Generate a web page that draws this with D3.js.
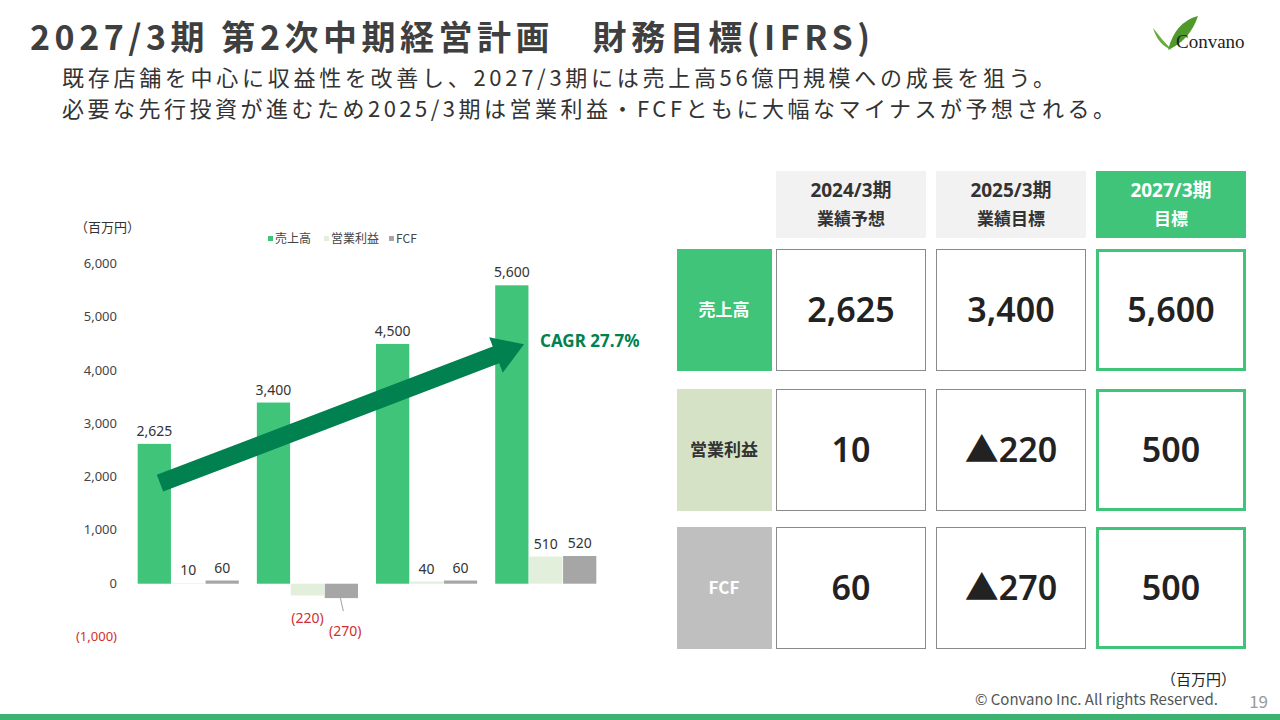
<!DOCTYPE html>
<html><head><meta charset="utf-8">
<script src="https://cdn.jsdelivr.net/npm/d3@7"></script>
<style>body{margin:0;background:#fff}svg{display:block;font-family:"Noto Sans CJK JP","Noto Sans",sans-serif}</style>
</head><body><svg id="c" width="1280" height="720"></svg>
<script>
const groups = ["2024/3", "2025/3", "2026/3", "2027/3"];
const seriesNames = ["売上高", "営業利益", "FCF"];
const revenue = [2625, 3400, 4500, 5600];
const opProfit = [10, -220, 40, 510];
const fcf = [60, -270, 60, 520];
const yTicks = [-1000, 0, 1000, 2000, 3000, 4000, 5000, 6000];
const colHeaders = [["2024/3期","業績予想"],["2025/3期","業績目標"],["2027/3期","目標"]];
const rowHeaders = ["売上高","営業利益","FCF"];
const tableValues = [["2,625","3,400","5,600"],["10","▲220","500"],["60","▲270","500"]];
const colors = ["#3fc47a","#e2efda","#a6a6a6"];

const svg = d3.select("#c");
const num = "'Noto Sans','Noto Sans CJK JP',sans-serif";
// title
svg.append("text").attr("x",30).attr("y",50).attr("font-size",34).attr("font-weight",700).attr("fill","#3f3f3f")
  .attr("textLength",840).attr("lengthAdjust","spacing").text("2027/3期 第2次中期経営計画　財務目標(IFRS)");
svg.append("text").attr("x",62).attr("y",86).attr("font-size",22).attr("fill","#333")
  .attr("textLength",993).attr("lengthAdjust","spacing").text("既存店舗を中心に収益性を改善し、2027/3期には売上高56億円規模への成長を狙う。");
svg.append("text").attr("x",62).attr("y",117).attr("font-size",22).attr("fill","#333")
  .attr("textLength",1053).attr("lengthAdjust","spacing").text("必要な先行投資が進むため2025/3期は営業利益・FCFともに大幅なマイナスが予想される。");
// logo
const lg = svg.append("g");
lg.append("path").attr("d","M1153 28 Q1158 45 1172 50 Q1162 40 1153 28Z").attr("fill","#6aab3a");
lg.append("path").attr("d","M1198 16 Q1175 22 1168 50 Q1190 40 1198 16Z").attr("fill","#4f9a2a");
lg.append("text").attr("x",1176).attr("y",48).attr("font-family","Liberation Serif,serif").attr("font-size",19).attr("fill","#222").text("Convano");
// bottom
svg.append("rect").attr("x",0).attr("y",714).attr("width",1280).attr("height",6).attr("fill","#3cb371");
svg.append("text").attr("x",1218).attr("y",705).attr("text-anchor","end").attr("font-size",15).attr("fill","#555").text("© Convano Inc. All rights Reserved.");
svg.append("text").attr("x",1268).attr("y",708).attr("text-anchor","end").attr("font-size",17).attr("fill","#999").text("19");
svg.append("text").attr("x",1236).attr("y",685).attr("text-anchor","end").attr("font-size",15).attr("fill","#222").text("（百万円）");

// chart
const y = d3.scaleLinear().domain([-1000,6000]).range([637,264]);
const x0 = d3.scaleBand().domain(groups).range([137,597]).paddingInner(0.14);
const x1 = d3.scaleBand().domain(seriesNames).range([0,x0.bandwidth()]).padding(0.02);
const fmt = v => v<0 ? `(${d3.format(",")(-v)})` : d3.format(",")(v);
svg.append("g").selectAll("text").data(yTicks).join("text")
  .attr("x",117).attr("y",d=>y(d)+4).attr("text-anchor","end").attr("font-size",13).attr("font-family",num)
  .attr("fill",d=>d<0?"#d03030":"#444").text(fmt);
svg.append("text").attr("x",75).attr("y",232).attr("font-size",13).attr("fill","#333").text("（百万円）");
// legend
const leg = svg.append("g").attr("transform","translate(268,240)");
[[0,0],[1,56],[2,121]].forEach(([i,dx])=>{
  leg.append("rect").attr("x",dx).attr("y",-4).attr("width",5).attr("height",5).attr("fill",colors[i]);
  leg.append("text").attr("x",dx+7).attr("y",3).attr("font-size",12).attr("fill","#444").text(seriesNames[i]);
});
const data = groups.map((g,i)=>({g, vals:[revenue[i],opProfit[i],fcf[i]]}));
const gg = svg.append("g").selectAll("g").data(data).join("g").attr("transform",d=>`translate(${x0(d.g)},0)`);
gg.selectAll("rect").data(d=>d.vals.map((v,k)=>({v,k}))).join("rect")
  .attr("x",d=>x1(seriesNames[d.k])).attr("width",x1.bandwidth())
  .attr("y",d=>y(Math.max(0,d.v))).attr("height",d=>Math.abs(y(d.v)-y(0)))
  .attr("fill",d=>colors[d.k]);
gg.selectAll("text").data(d=>d.vals.map((v,k)=>({v,k}))).join("text")
  .attr("x",d=>x1(seriesNames[d.k])+x1.bandwidth()/2 + (d.v<0 && d.k==2?4:0))
  .attr("y",d=>d.v>=0? y(d.v)-8 : y(d.v)+ (d.k==2?38:28))
  .attr("text-anchor","middle").attr("font-size",14).attr("font-family",num)
  .attr("fill",d=>d.v<0?"#d03030":"#333").text(d=>fmt(d.v));
const g2 = x0(groups[1])+x1(seriesNames[2])+x1.bandwidth()/2;
svg.append("line").attr("x1",g2-1).attr("y1",y(-270)).attr("x2",g2+2).attr("y2",y(-270)+13).attr("stroke","#888").attr("stroke-width",0.8);
// arrow
const ax1=160, ay1=y(2000)+6, ax2=524, ay2=y(4400)-5;
const ang=Math.atan2(ay2-ay1,ax2-ax1), w=9, hw=19, hl=30;
const px=-Math.sin(ang), py=Math.cos(ang);
const bx=ax2-hl*Math.cos(ang), by=ay2-hl*Math.sin(ang);
const pts=[[ax1+px*w,ay1+py*w],[bx+px*w,by+py*w],[bx+px*hw,by+py*hw],[ax2,ay2],[bx-px*hw,by-py*hw],[bx-px*w,by-py*w],[ax1-px*w,ay1-py*w]];
svg.append("polygon").attr("points",pts.map(p=>p.join(",")).join(" ")).attr("fill","#00814f");
svg.append("text").attr("x",540).attr("y",347).attr("font-size",17).attr("font-weight",700).attr("font-family",num).attr("fill","#00814f").text("CAGR 27.7%");

// table
const colX=[776,936,1096], colW=150;
const rowY=[249,389,527], rowH=122;
colHeaders.forEach((h,i)=>{
  const last=i==2;
  svg.append("rect").attr("x",colX[i]).attr("y",171).attr("width",colW).attr("height",67).attr("fill",last?"#3fc47a":"#f2f2f2");
  svg.append("text").attr("x",colX[i]+colW/2).attr("y",197).attr("text-anchor","middle").attr("font-size",19).attr("font-weight",700).attr("font-family",num).attr("fill",last?"#fff":"#333").text(h[0]);
  svg.append("text").attr("x",colX[i]+colW/2).attr("y",225).attr("text-anchor","middle").attr("font-size",17).attr("font-weight",700).attr("fill",last?"#fff":"#333").text(h[1]);
});
const rowColors=["#3fc47a","#d6e2c6","#bfbfbf"];
rowHeaders.forEach((r,j)=>{
  svg.append("rect").attr("x",677).attr("y",rowY[j]).attr("width",95).attr("height",rowH).attr("fill",rowColors[j]);
  svg.append("text").attr("x",724).attr("y",rowY[j]+rowH/2+6).attr("text-anchor","middle").attr("font-size",17).attr("font-weight",700).attr("fill",j==1?"#333":"#fff").text(r);
  tableValues[j].forEach((v,i)=>{
    const last=i==2;
    svg.append("rect").attr("x",colX[i]+(last?1.5:0.5)).attr("y",rowY[j]+(last?1.5:0.5)).attr("width",colW-(last?3:1)).attr("height",rowH-(last?3:1))
      .attr("fill","#fff").attr("stroke",last?"#3fc47a":"#8a8a8a").attr("stroke-width",last?3:1);
    svg.append("text").attr("x",colX[i]+colW/2).attr("y",rowY[j]+rowH/2+12).attr("text-anchor","middle").attr("font-size",34).attr("font-weight",600).attr("font-family",num).attr("fill","#222").text(v);
  });
});
</script></body></html>
